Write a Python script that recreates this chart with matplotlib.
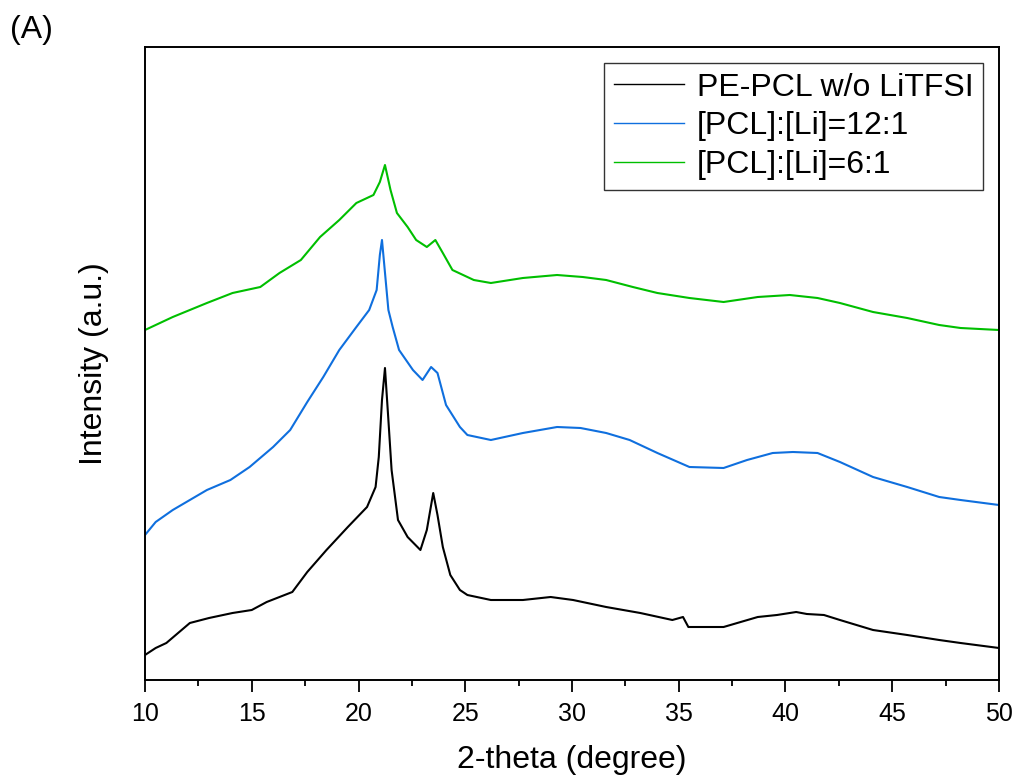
import matplotlib
matplotlib.use("Agg")
import matplotlib.pyplot as plt
from matplotlib.ticker import MultipleLocator

plt.rcParams['font.family'] = ['Liberation Sans', 'DejaVu Sans']

# 2-theta positions and intensities (a.u.)
black_x = [10.0, 10.5, 11.0, 12.1, 13.0, 14.1, 15.0, 15.7, 16.9, 17.6, 18.5, 19.5, 20.4, 20.8,
           20.95, 21.1, 21.24, 21.4, 21.55, 21.85, 22.3, 22.9, 23.2, 23.5, 23.7, 23.95, 24.3,
           24.75, 25.1, 26.2, 27.7, 29.0, 30.05, 31.6, 33.2, 34.7, 35.2, 35.45, 37.1, 38.7,
           39.6, 40.5, 41.0, 41.8, 42.55, 44.1, 45.7, 47.2, 48.2, 50.0]
black_y = [25, 32, 37, 57, 62, 67, 70, 78, 88, 108, 130, 153, 173, 193, 223, 280, 312, 260,
           210, 160, 143, 130, 150, 187, 165, 133, 105, 90, 85, 80, 80, 83, 80, 73, 67, 60, 63,
           53, 53, 63, 65, 68, 66, 65, 60, 50, 45, 40, 37, 32]

blue_x = [10.0, 10.5, 11.3, 12.9, 14.0, 14.9, 16.0, 16.8, 17.6, 18.35, 19.1, 19.9, 20.5, 20.85,
          21.0, 21.1, 21.25, 21.4, 21.6, 21.9, 22.55, 23.0, 23.4, 23.7, 24.1, 24.75, 25.1, 26.2,
          27.7, 29.3, 30.4, 31.6, 32.7, 34.0, 35.5, 37.1, 38.2, 39.4, 40.35, 41.5, 42.55, 44.1,
          45.7, 47.2, 48.2, 50.0]
blue_y = [145, 158, 170, 190, 200, 213, 233, 250, 278, 303, 330, 353, 370, 390, 425, 440, 405,
          370, 353, 330, 310, 300, 313, 307, 275, 253, 245, 240, 247, 253, 252, 247, 240, 227,
          213, 212, 220, 227, 228, 227, 218, 203, 193, 183, 180, 175]

green_x = [10.0, 11.3, 12.9, 14.1, 15.4, 16.3, 17.3, 18.2, 19.1, 19.9, 20.7, 21.0, 21.24, 21.5,
           21.8, 22.3, 22.7, 23.2, 23.6, 23.95, 24.4, 25.4, 26.2, 27.7, 29.3, 30.5, 31.6, 32.85,
           34.0, 35.5, 37.1, 38.7, 40.2, 41.5, 42.55, 44.1, 45.7, 47.2, 48.2, 50.0]
green_y = [350, 363, 377, 387, 393, 407, 420, 443, 460, 477, 485, 498, 515, 490, 467, 453, 440,
           433, 440, 427, 410, 400, 397, 402, 405, 403, 400, 393, 387, 382, 378, 383, 385, 382,
           377, 368, 362, 355, 352, 350]

labels = ['PE-PCL w/o LiTFSI', '[PCL]:[Li]=12:1', '[PCL]:[Li]=6:1']
colors = ['#000000', '#0f6fde', '#00bf00']

fig = plt.figure(figsize=(10.16, 7.78), dpi=100)
ax = fig.add_axes([145/1016, 1-680/778, (999-145)/1016, (680-47)/778])

ax.plot(black_x, black_y, color=colors[0], lw=1.5, label=labels[0])
ax.plot(blue_x, blue_y, color=colors[1], lw=1.5, label=labels[1])
ax.plot(green_x, green_y, color=colors[2], lw=1.5, label=labels[2])

ax.set_xlim(10, 50)
ax.set_ylim(0, 633)
ax.set_yticks([])
ax.xaxis.set_major_locator(MultipleLocator(5))
ax.xaxis.set_minor_locator(MultipleLocator(2.5))
ax.tick_params(axis='x', which='major', direction='out', length=8.5, width=1.3,
               labelsize=18, pad=7, top=False)
ax.tick_params(axis='x', which='minor', direction='out', length=4, width=1.3, top=False)
for s in ax.spines.values():
    s.set_linewidth(1.4)

ax.set_xlabel('2-theta (degree)', fontsize=23, labelpad=14)
ax.set_ylabel('Intensity (a.u.)', fontsize=23, labelpad=26)

leg = ax.legend(loc='upper right', fontsize=23, frameon=True, fancybox=False,
                edgecolor='black', handlelength=2.2, handletextpad=0.4,
                labelspacing=0.28, borderpad=0.3, borderaxespad=0.5)
leg.get_frame().set_linewidth(1.0)
for line in leg.get_lines():
    line.set_linewidth(1.0)

fig.text(10/1016, 1-30/778, '(A)', fontsize=23, va='center', ha='left')

fig.savefig('out.png', dpi=100)
